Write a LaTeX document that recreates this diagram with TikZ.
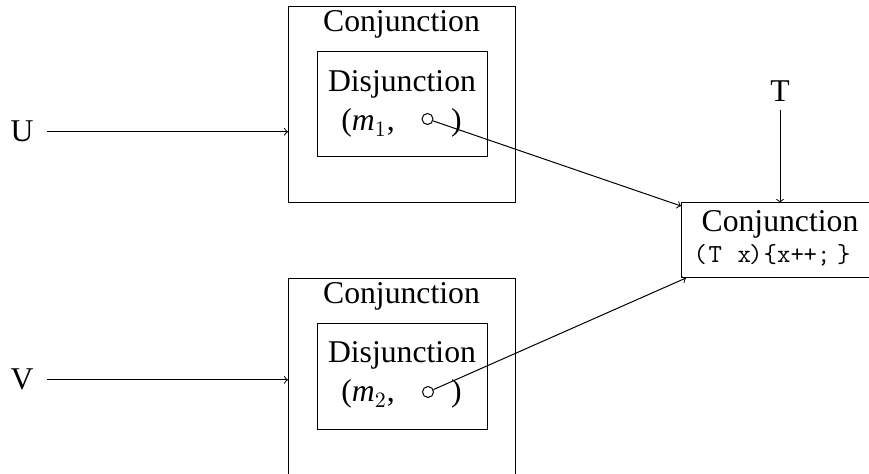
\documentclass[tikz,border=0pt]{standalone}
\usepackage{fontspec}
\setmainfont{Liberation Serif}
\newcommand{\mch}[1]{\makebox[0pt]{#1}}
\tikzset{
  box/.style={draw, line width=0.5pt, inner sep=0pt, outer sep=0pt},
  lbl/.style={inner sep=0pt, font=\fontsize{15.85}{19}\selectfont},
  src/.style={inner sep=0pt, inner xsep=6.75pt, font=\fontsize{15.85}{19}\selectfont},
  conn/.style={->, line width=0.5pt},
  dot/.style={circle, draw, line width=0.5pt, minimum size=5.5pt, inner sep=0pt}
}
\begin{document}
\begin{tikzpicture}[x=0.5pt,y=-0.5pt]
\useasboundingbox (0,0) rectangle (869,474);
\clip (0,0) rectangle (869,474);
% top group
\node[box, minimum width=113.5pt, minimum height=98pt] (c1) at (401.5,105) {};
\node[box, minimum width=85pt, minimum height=52.5pt] (d1) at (402,104.5) {};
\node[lbl, anchor=base] (c1t) at (401.5,32) {Conjunction};
\node[lbl, anchor=base] (d1t) at (402,92) {Disjunction};
\node[lbl, anchor=base west] (m1) at (341,131) {(\textit{m}$_1$,};
\node[lbl, anchor=base east] (p1) at (462,131) {)};
\node[dot] (o1) at (427.5,119) {};
% bottom group
\node[box, minimum width=113.5pt, minimum height=98pt] (c2) at (401.5,377) {};
\node[box, minimum width=85pt, minimum height=53pt] (d2) at (402,377) {};
\node[lbl, anchor=base] (c2t) at (401.5,304) {Conjunction};
\node[lbl, anchor=base] (d2t) at (402,363) {Disjunction};
\node[lbl, anchor=base west] (m2) at (341,402) {(\textit{m}$_2$,};
\node[lbl, anchor=base east] (p2) at (462,402) {)};
\node[dot] (o2) at (428,392) {};
% right box
\node[box, minimum width=99pt, minimum height=37.5pt] (r) at (780,240.5) {};
\node[lbl, anchor=base] (rt) at (780,232) {Conjunction};
\node[inner sep=0pt, anchor=base west, font=\ttfamily\fontsize{13}{15}\selectfont] (rc) at (700,263)
  {\mch{(}\hspace{7.5pt}\mch{T}\hspace{14.5pt}\mch{x}\hspace{5.75pt}\mch{)}\hspace{7.25pt}\mch{\{}\hspace{6.75pt}\mch{x}\hspace{6.75pt}\mch{+}\hspace{6.5pt}\mch{+}\hspace{6.75pt}\mch{;}\hspace{10pt}\mch{\}}};
% inputs
\node[src, anchor=base] (U) at (22,142) {U};
\node[src, anchor=base] (V) at (22,390) {V};
\node[lbl, anchor=base, inner ysep=4pt] (T) at (780,102) {T};
% connectors
\draw[conn] (U.east) -- (U.east -| c1.west);
\draw[conn] (V.east) -- (V.east -| c2.west);
\draw[conn] (T.south) -- (r.north);
\draw[conn] (o1) -- ([yshift=-1.5pt]r.north west);
\draw[conn] (o2) -- ([xshift=2.5pt]r.south west);
\end{tikzpicture}
\end{document}
